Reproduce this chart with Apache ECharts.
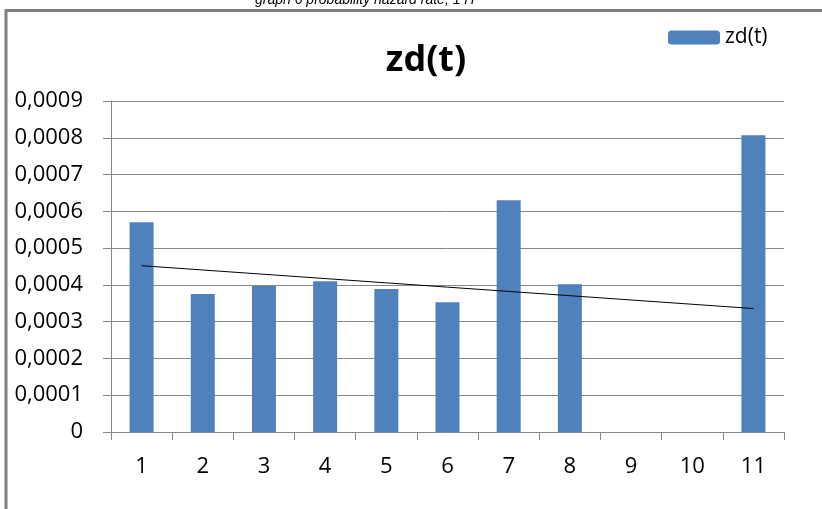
<!DOCTYPE html>
<html>
<head>
<meta charset="utf-8">
<script src="https://cdn.jsdelivr.net/npm/echarts@6/dist/echarts.min.js"></script>
<style>
  html, body { margin: 0; padding: 0; background: #ffffff; }
  #chart { width: 822px; height: 509px; }
</style>
</head>
<body>
<div id="chart"></div>
<script>
// Categories (time steps) and hazard-rate values zd(t)
const categories = ['1', '2', '3', '4', '5', '6', '7', '8', '9', '10', '11'];
const zdValues = [0.00057, 0.000375, 0.000397, 0.00041, 0.000389, 0.000353, 0.00063, 0.000402, 0, 0, 0.000807];
const yTicks = { min: 0, max: 0.0009, interval: 0.0001 };
const seriesName = 'zd(t)';
const caption = 'graph 6 probability hazard rate, 1 H';

// Least-squares linear trend through the bar values
function linearTrend(values) {
  const n = values.length;
  let sx = 0, sy = 0, sxy = 0, sxx = 0;
  values.forEach((y, i) => {
    const x = i + 1;
    sx += x; sy += y; sxy += x * y; sxx += x * x;
  });
  const slope = (n * sxy - sx * sy) / (n * sxx - sx * sx);
  const icept = (sy - slope * sx) / n;
  return values.map((_, i) => icept + slope * (i + 1));
}
const trend = linearTrend(zdValues);

const chart = echarts.init(document.getElementById('chart'), null, { renderer: 'canvas' });
const axisFont = '"Open Sans", sans-serif';

chart.setOption({
  backgroundColor: '#ffffff',
  animation: false,
  title: {
    text: 'zd(t)',
    left: 421,
    textAlign: 'center',
    top: 38,
    textStyle: { fontFamily: axisFont, fontWeight: 'bold', fontSize: 36, color: '#000000' }
  },
  legend: {
    data: [seriesName],
    left: 668,
    top: 27,
    padding: 0,
    itemWidth: 52,
    itemHeight: 14,
    textStyle: { fontFamily: axisFont, fontSize: 21, color: '#000000' }
  },
  graphic: [
    {
      type: 'rect',
      shape: { x: 6, y: 10.5, width: 840, height: 520 },
      style: { fill: 'none', stroke: '#7f7f7f', lineWidth: 3 },
      silent: true
    },
    {
      type: 'text',
      left: 255,
      top: -7,
      style: {
        text: caption,
        font: 'italic 14px "Liberation Sans", Arial, sans-serif',
        fill: '#000000'
      },
      silent: true
    }
  ],
  grid: { left: 111, right: 38, top: 101, bottom: 77, containLabel: false },
  xAxis: {
    type: 'category',
    data: categories,
    axisLine: { lineStyle: { color: '#868686', width: 1 } },
    axisTick: { show: true, length: 8, alignWithLabel: false, lineStyle: { color: '#868686' } },
    axisLabel: { fontFamily: axisFont, fontSize: 22, color: '#000000', margin: 24 }
  },
  yAxis: {
    type: 'value',
    min: yTicks.min,
    max: yTicks.max,
    interval: yTicks.interval,
    axisLine: { show: true, lineStyle: { color: '#868686', width: 1 } },
    axisTick: { show: true, length: 8, lineStyle: { color: '#868686' } },
    splitLine: { show: true, lineStyle: { color: '#868686', width: 1 } },
    axisLabel: {
      fontFamily: axisFont,
      fontSize: 22,
      color: '#000000',
      margin: 28,
      formatter: v => (Math.abs(v) < 1e-12 ? '0' : v.toFixed(4).replace('.', ','))
    }
  },
  series: [
    {
      name: seriesName,
      type: 'bar',
      data: zdValues,
      barWidth: 24,
      itemStyle: { color: '#4f81bd' }
    },
    {
      name: 'trend',
      type: 'line',
      data: trend,
      showSymbol: false,
      symbol: 'none',
      lineStyle: { color: '#000000', width: 1 },
      z: 5
    }
  ]
});
</script>
</body>
</html>
